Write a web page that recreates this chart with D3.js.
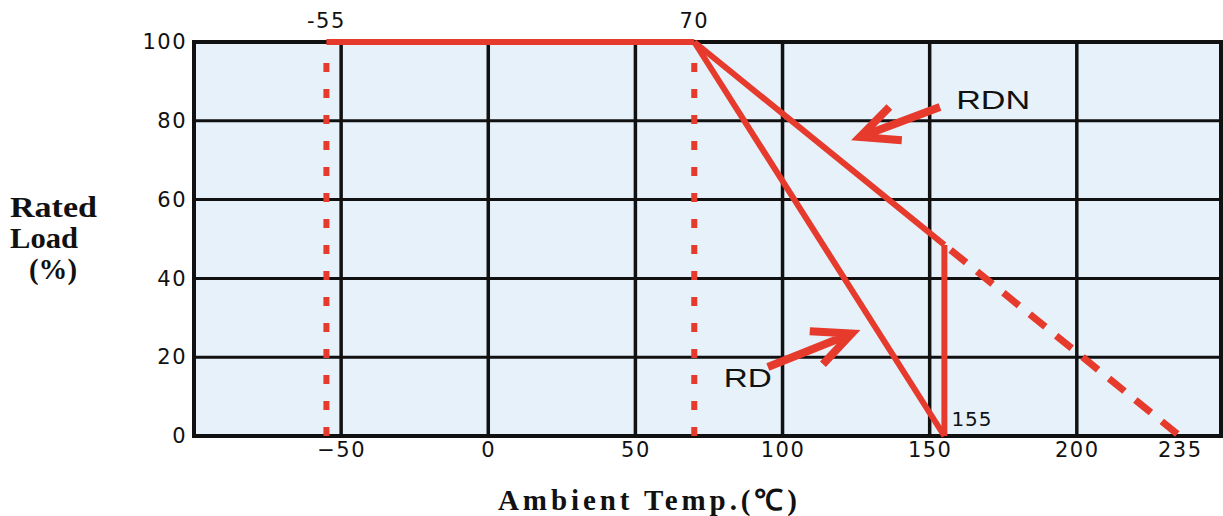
<!DOCTYPE html>
<html>
<head>
<meta charset="utf-8">
<script src="https://cdn.jsdelivr.net/npm/d3@7/dist/d3.min.js"></script>
<style>
  html, body { margin: 0; padding: 0; background: #ffffff; }
  svg { display: block; }
</style>
</head>
<body>
<svg id="chart" width="1223" height="516"></svg>
<script>
// ---- data ----
const xTicks = [-50, 0, 50, 100, 150, 200, 235];
const xGrid = [-50, 0, 50, 100, 150, 200];
const yTicks = [0, 20, 40, 60, 80, 100];
const limitTemps = [-55, 70];
const limitLabels = ["-55", "70"];

const plateauT = [-55, 70];
const plateauLoad = [100, 100];
const rdT = [70, 155];
const rdLoad = [100, 0];
const rdnT = [70, 155];
const rdnLoad = [100, 48.5];
const stepT = [155, 155];
const stepLoad = [0, 48.5];
const rdnExtT = [155, 235];
const rdnExtLoad = [48.5, 0];

const endLabel = "155";
const endLabelT = 155;
const seriesNames = ["RD", "RDN"];
// arrows: tail -> tip in (temp, load)
const arrowRD = [[95, 17.5], [123.5, 26]];
const arrowRDN = [[153.5, 83.5], [126.3, 75.9]];
const rdLabelPos = [80, 12.5];
const rdnLabelPos = [159, 83];

// ---- layout ----
const svg = d3.select("#chart");
const red = "#e63a2c";
const ink = "#111111";
const x = d3.scaleLinear().domain([-100, 249]).range([194, 1221]);
const y = d3.scaleLinear().domain([0, 100]).range([436, 42]);
const zip = (a, b) => a.map((v, i) => [v, b[i]]);
const line = d3.line().x(d => x(d[0])).y(d => y(d[1]));

// plot background
svg.append("rect")
  .attr("x", x(-100)).attr("y", y(100))
  .attr("width", x(249) - x(-100)).attr("height", y(0) - y(100))
  .attr("fill", "#e6f1fa");

// grid
svg.append("g").selectAll("line").data(xGrid).join("line")
  .attr("x1", d => x(d)).attr("x2", d => x(d))
  .attr("y1", y(0)).attr("y2", y(100))
  .attr("stroke", ink).attr("stroke-width", 3.5);
svg.append("g").selectAll("line").data(yTicks.filter(v => v > 0 && v < 100)).join("line")
  .attr("x1", x(-100)).attr("x2", x(249))
  .attr("y1", d => y(d)).attr("y2", d => y(d))
  .attr("stroke", ink).attr("stroke-width", 3);

// border
svg.append("rect")
  .attr("x", x(-100)).attr("y", y(100))
  .attr("width", x(249) - x(-100)).attr("height", y(0) - y(100))
  .attr("fill", "none").attr("stroke", ink).attr("stroke-width", 4);

// axes labels
const tickFont = "'DejaVu Sans', Verdana, sans-serif";
const xAxis = svg.append("g")
  .attr("transform", `translate(0,${y(0)})`)
  .call(d3.axisBottom(x).tickValues(xTicks).tickSize(0).tickPadding(6).tickFormat(d3.format("d")));
xAxis.select(".domain").remove();
xAxis.selectAll("text")
  .attr("font-family", tickFont).attr("font-size", 21).attr("fill", ink)
  .attr("letter-spacing", 1.5);

const yAxis = svg.append("g")
  .attr("transform", `translate(${x(-100) - 1},0)`)
  .call(d3.axisLeft(y).tickValues(yTicks).tickSize(0).tickPadding(6).tickFormat(d3.format("d")));
yAxis.select(".domain").remove();
yAxis.selectAll("text")
  .attr("font-family", tickFont).attr("font-size", 21).attr("fill", ink)
  .attr("letter-spacing", 1.5);

// top limit labels
svg.append("g").selectAll("text").data(limitTemps).join("text")
  .attr("x", d => x(d)).attr("y", 28)
  .attr("text-anchor", "middle")
  .attr("font-family", tickFont).attr("font-size", 21).attr("fill", ink)
  .attr("letter-spacing", 1.5)
  .text((d, i) => limitLabels[i]);

// ---- red curves ----
svg.append("g").selectAll("line").data(limitTemps).join("line")
  .attr("x1", d => x(d)).attr("x2", d => x(d))
  .attr("y1", y(0)).attr("y2", y(100) + 6)
  .attr("stroke", red).attr("stroke-width", 6)
  .attr("stroke-dasharray", "9,17");

const solid = (pts) => svg.append("path").attr("d", line(pts))
  .attr("fill", "none").attr("stroke", red).attr("stroke-width", 6)
  .attr("stroke-linejoin", "round").attr("stroke-linecap", "butt");

solid(zip(plateauT, plateauLoad));
solid(zip(rdT, rdLoad));
solid(zip(rdnT, rdnLoad));
solid(zip(stepT, stepLoad));

svg.append("path").attr("d", line(zip(rdnExtT, rdnExtLoad)))
  .attr("fill", "none").attr("stroke", red).attr("stroke-width", 7)
  .attr("stroke-dasharray", "20,14").attr("stroke-dashoffset", -8);

// end label
svg.append("text")
  .attr("x", x(endLabelT) + 7).attr("y", 426)
  .attr("font-family", tickFont).attr("font-size", 20).attr("fill", ink)
  .attr("letter-spacing", 1)
  .text(endLabel);

// arrows
function arrow(a) {
  const x0 = x(a[0][0]), y0 = y(a[0][1]), x1 = x(a[1][0]), y1 = y(a[1][1]);
  const ang = Math.atan2(y0 - y1, x0 - x1);
  const len = 42, spread = 25 * Math.PI / 180;
  const b1 = [x1 + len * Math.cos(ang + spread), y1 + len * Math.sin(ang + spread)];
  const b2 = [x1 + len * Math.cos(ang - spread), y1 + len * Math.sin(ang - spread)];
  const p = d3.path();
  p.moveTo(x0, y0); p.lineTo(x1, y1);
  p.moveTo(b1[0], b1[1]); p.lineTo(x1, y1); p.lineTo(b2[0], b2[1]);
  svg.append("path").attr("d", p.toString())
    .attr("fill", "none").attr("stroke", red).attr("stroke-width", 8)
    .attr("stroke-linejoin", "miter").attr("stroke-linecap", "butt");
}
arrow(arrowRD);
arrow(arrowRDN);

// series labels
const labFont = "'Liberation Sans', Arial, sans-serif";
svg.append("text")
  .attr("x", x(rdLabelPos[0])).attr("y", y(rdLabelPos[1]))
  .attr("font-family", labFont).attr("font-size", 26).attr("fill", ink)
  .attr("textLength", 48).attr("lengthAdjust", "spacingAndGlyphs")
  .text(seriesNames[0]);
svg.append("text")
  .attr("x", x(rdnLabelPos[0])).attr("y", y(rdnLabelPos[1]))
  .attr("font-family", labFont).attr("font-size", 26).attr("fill", ink)
  .attr("textLength", 74).attr("lengthAdjust", "spacingAndGlyphs")
  .text(seriesNames[1]);

// axis titles
const titleFont = "'Liberation Serif', 'Times New Roman', serif";
const yTitle = ["Rated", "Load", "(%)"];
const yTitleX = [10, 10, 29];
const yTitleY = [217, 248, 279];
const yTitleW = [87, 68, 48];
svg.append("g").selectAll("text").data(yTitle).join("text")
  .attr("x", (d, i) => yTitleX[i]).attr("y", (d, i) => yTitleY[i])
  .attr("font-family", titleFont).attr("font-weight", "bold")
  .attr("font-size", 30).attr("fill", ink)
  .attr("textLength", (d, i) => yTitleW[i]).attr("lengthAdjust", "spacingAndGlyphs")
  .text(d => d);

svg.append("text")
  .attr("x", 498).attr("y", 510)
  .attr("font-family", titleFont).attr("font-weight", "bold")
  .attr("font-size", 29).attr("fill", ink)
  .attr("textLength", 299).attr("lengthAdjust", "spacing")
  .text("Ambient Temp.(\u2103)");
</script>
</body>
</html>
